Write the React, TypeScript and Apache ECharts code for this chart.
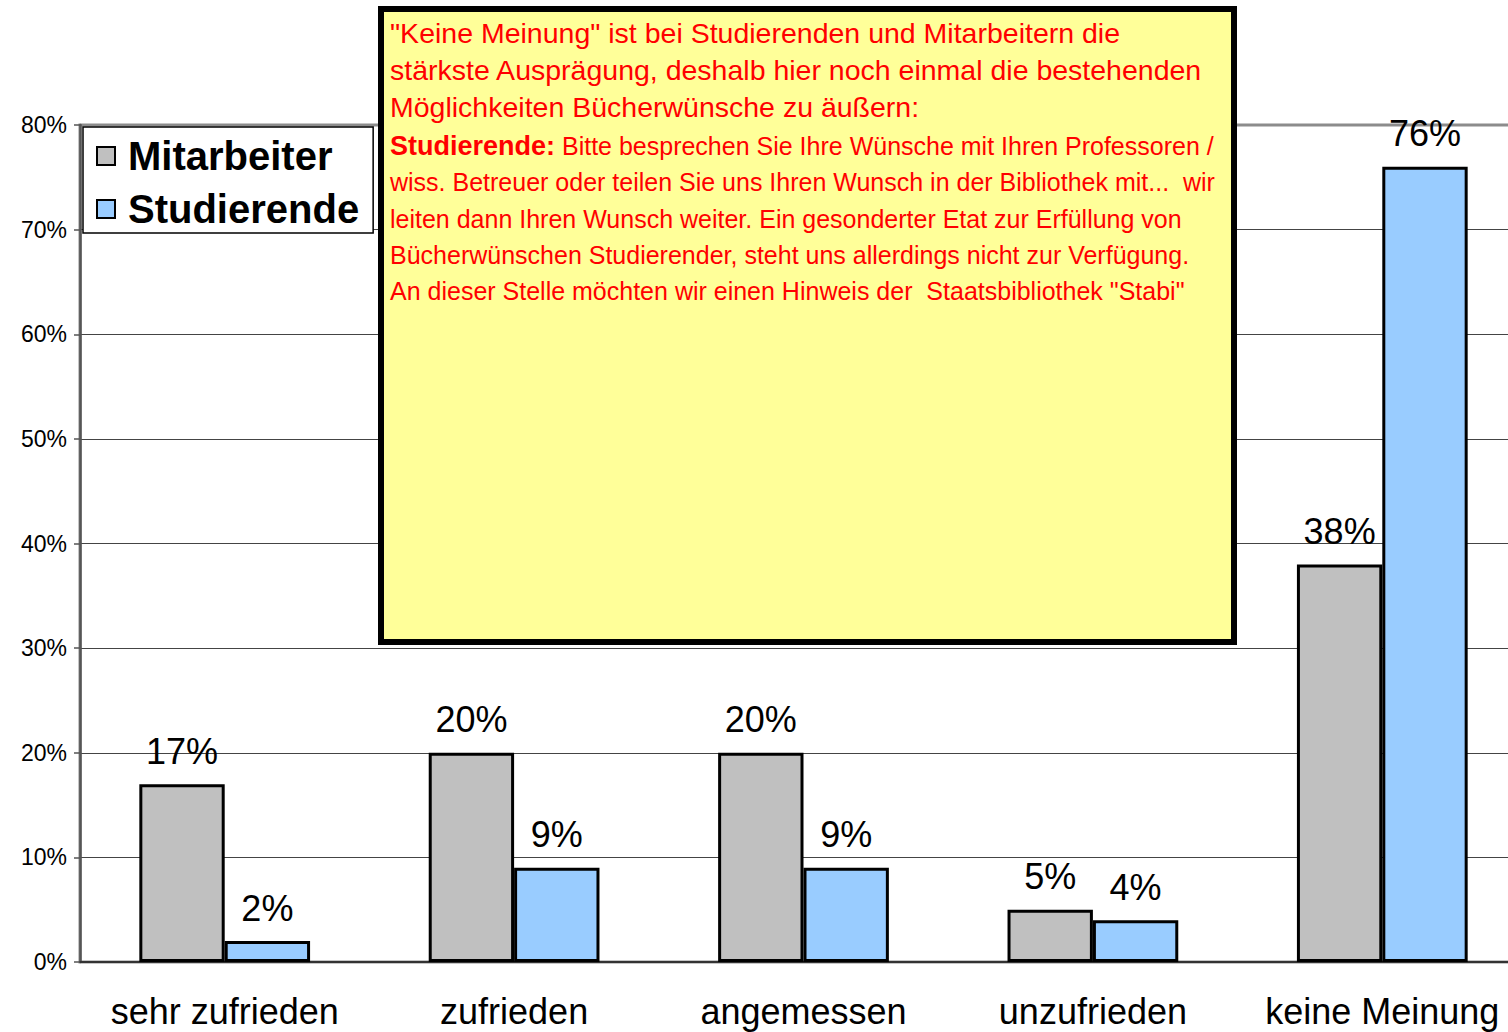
import React, { useEffect, useRef } from "react";
import * as echarts from "echarts";

const categories = ["sehr zufrieden", "zufrieden", "angemessen", "unzufrieden", "keine Meinung"];
const mitarbeiter = [17, 20, 20, 5, 38];
const studierende = [2, 9, 9, 4, 76];
const seriesNames = ["Mitarbeiter", "Studierende"];
const yTicks = { min: 0, max: 80, interval: 10 };

const noteLinesLarge = [
  "\"Keine Meinung\" ist bei Studierenden und Mitarbeitern die",
  "stärkste Ausprägung, deshalb hier noch einmal die bestehenden",
  "Möglichkeiten Bücherwünsche zu äußern:",
];
const noteBold = "Studierende:";
const noteLinesSmall = [
  " Bitte besprechen Sie Ihre Wünsche mit Ihren Professoren /",
  "wiss. Betreuer oder teilen Sie uns Ihren Wunsch in der Bibliothek mit...  wir",
  "leiten dann Ihren Wunsch weiter. Ein gesonderter Etat zur Erfüllung von",
  "Bücherwünschen Studierender, steht uns allerdings nicht zur Verfügung.",
  "An dieser Stelle möchten wir einen Hinweis der  Staatsbibliothek \"Stabi\"",
];

const FONT = "'Liberation Sans', Arial, sans-serif";

export default function App() {
  const ref = useRef<HTMLDivElement>(null);
  useEffect(() => {
    const chart = echarts.init(ref.current!, undefined, { renderer: "svg" });
    const largeY = [33, 70, 107];
    const smallY = [146, 182, 219, 255, 291];
    const noteTexts: any[] = [];
    noteLinesLarge.forEach((t, i) => {
      noteTexts.push({
        type: "text",
        z: 101,
        x: 390,
        y: largeY[i],
        style: { text: t, fill: "#ff0000", fontSize: 28.5, fontFamily: FONT, verticalAlign: "middle" },
      });
    });
    noteLinesSmall.forEach((t, i) => {
      const text = i === 0 ? "{b|" + noteBold + "}" + t : t;
      noteTexts.push({
        type: "text",
        z: 101,
        x: 390,
        y: smallY[i],
        style: {
          text,
          fill: "#ff0000",
          fontSize: 25,
          fontFamily: FONT,
          verticalAlign: "middle",
          rich: {
            b: { fontSize: 27, fontWeight: "bold", fill: "#ff0000", fontFamily: FONT },
          },
        },
      });
    });

    const barLabel = {
      show: true,
      position: "top",
      distance: 15,
      formatter: "{c}%",
      fontSize: 36,
      fontFamily: FONT,
      color: "#000",
    };

    chart.setOption({
      animation: false,
      backgroundColor: "#ffffff",
      grid: {
        left: 80,
        top: 125,
        bottom: 70,
        right: -19,
        containLabel: false,
        outerBoundsMode: "none",
        show: true,
        borderColor: "#8c8c8c",
        borderWidth: 3,
        backgroundColor: "transparent",
      },
      legend: {
        orient: "vertical",
        left: 83,
        top: 127,
        data: seriesNames,
        backgroundColor: "#ffffff",
        borderColor: "#000000",
        borderWidth: 1.5,
        padding: [8, 14, 3, 13],
        itemGap: 11,
        itemWidth: 18,
        itemHeight: 18,
        icon: "rect",
        textStyle: {
          fontSize: 40,
          fontWeight: "bold",
          fontFamily: FONT,
          color: "#000",
          lineHeight: 42,
          padding: [0, 0, 0, 8],
        },
        z: 10,
      },
      xAxis: {
        type: "category",
        data: categories,
        axisLine: { lineStyle: { color: "#333", width: 2 } },
        axisTick: { length: 9, lineStyle: { color: "#333", width: 1.5 } },
        axisLabel: { interval: 0, fontSize: 36, fontFamily: FONT, color: "#000", margin: 31 },
      },
      yAxis: {
        type: "value",
        min: yTicks.min,
        max: yTicks.max,
        interval: yTicks.interval,
        axisLine: { show: true, lineStyle: { color: "#555", width: 2.5 } },
        axisTick: { show: true, length: 6, lineStyle: { color: "#555", width: 1.5 } },
        axisLabel: { fontSize: 23, fontFamily: FONT, color: "#000", formatter: "{value}%", margin: 13 },
        splitLine: {
          show: true,
          lineStyle: {
            color: ["#444", "#444", "#444", "#444", "#444", "#444", "#444", "#444", "#8c8c8c"],
            width: 1,
          },
        },
      },
      series: [
        {
          name: seriesNames[0],
          type: "bar",
          data: mitarbeiter,
          barGap: "0%",
          barCategoryGap: "41%",
          itemStyle: { color: "#c0c0c0", borderColor: "#000", borderWidth: 3 },
          label: barLabel,
        },
        {
          name: seriesNames[1],
          type: "bar",
          data: studierende,
          barGap: "0%",
          barCategoryGap: "41%",
          itemStyle: { color: "#99ccff", borderColor: "#000", borderWidth: 3 },
          label: barLabel,
        },
      ],
      graphic: [
        {
          type: "group",
          z: 100,
          children: [
            {
              type: "rect",
              z: 100,
              shape: { x: 381, y: 9, width: 853, height: 633 },
              style: { fill: "#ffff99", stroke: "#000", lineWidth: 6 },
            },
            ...noteTexts,
          ],
        },
      ],
    });
    return () => chart.dispose();
  }, []);
  return (
    <div
      ref={ref}
      style={{ position: "fixed", left: 0, top: 0, width: 1508, height: 1032, background: "#fff" }}
    />
  );
}
